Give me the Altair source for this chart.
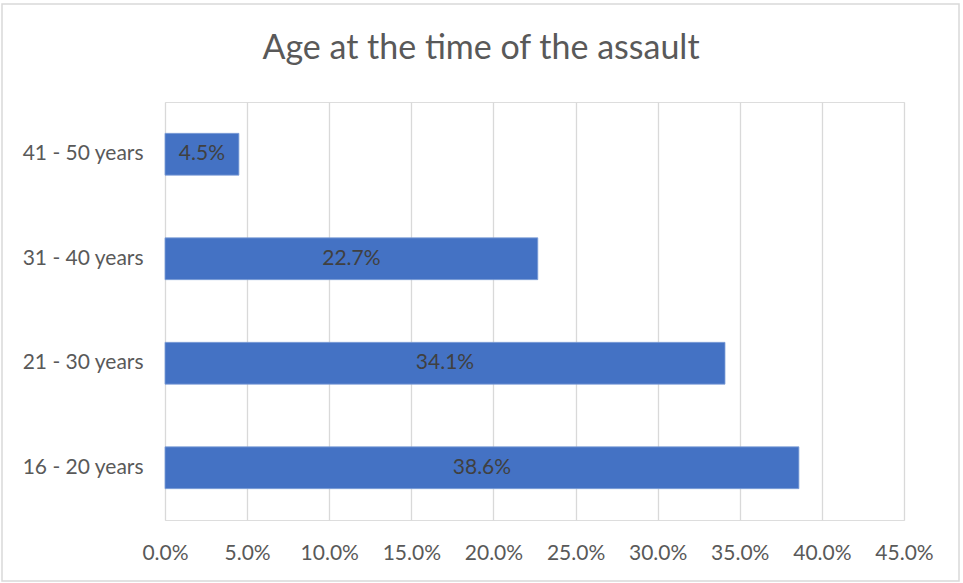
import altair as alt
import pandas as pd

categories = ["41 - 50 years", "31 - 40 years", "21 - 30 years", "16 - 20 years"]
values = [0.045, 0.227, 0.341, 0.386]
labels = ["4.5%", "22.7%", "34.1%", "38.6%"]
ticks = [0, 0.05, 0.10, 0.15, 0.20, 0.25, 0.30, 0.35, 0.40, 0.45]
title_text = "Age at the time of the assault"

df = pd.DataFrame({"cat": categories, "val": values, "lab": labels})

FONT = "Lato"
W, H = 739, 418

y_enc = alt.Y("cat:N", sort=categories, title=None,
              scale=alt.Scale(paddingInner=0.6, paddingOuter=0.3),
              axis=alt.Axis(domain=False, ticks=False, labelPadding=22,
                            labelFontSize=21, labelColor="#595959", labelFont=FONT))
x_enc = alt.X("val:Q", title=None,
              scale=alt.Scale(domain=[0, 0.45], nice=False),
              axis=alt.Axis(values=ticks, format=".1%", domain=False, ticks=False,
                            grid=True, gridColor="#D9D9D9", gridWidth=1.3,
                            labelPadding=22, labelFontSize=21, labelColor="#595959",
                            labelFont=FONT, labelFlush=False))

border = alt.Chart(pd.DataFrame({"a": [0]})).mark_rect(
    fillOpacity=0, stroke="#D9D9D9", strokeWidth=1.5
).encode(x=alt.value(-163), x2=alt.value(794), y=alt.value(-98), y2=alt.value(479))

title = alt.Chart(pd.DataFrame({"a": [0]})).mark_text(
    font=FONT, fontSize=34, color="#595959", align="center", baseline="alphabetic"
).encode(x=alt.value(316), y=alt.value(-43), text=alt.value(title_text))

bars = alt.Chart(df).mark_bar(color="#4472C4", stroke="#7F9FD8", strokeWidth=0.8).encode(
    x=x_enc, y=y_enc
)

text = alt.Chart(df).transform_calculate(mid="datum.val / 2").mark_text(
    font=FONT, fontSize=21, color="#404040", baseline="middle", align="center"
).encode(
    x=alt.X("mid:Q"), y=alt.Y("cat:N", sort=categories), text="lab:N"
)

chart = alt.layer(border, title, bars, text).properties(
    width=W, height=H,
    padding={"left": 165, "top": 102, "right": 59, "bottom": 63},
    autosize=alt.AutoSizeParams(type="none"),
).configure_view(stroke=None).configure(background="white")

chart.save("out.html", embed_options={"renderer": "svg", "actions": False})
